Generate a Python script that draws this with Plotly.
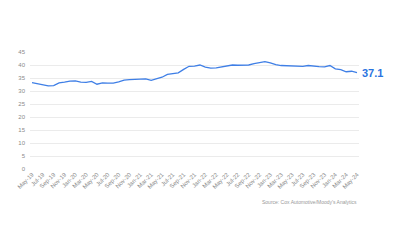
import plotly.graph_objects as go

months = ["May-19","Jun-19","Jul-19","Aug-19","Sep-19","Oct-19","Nov-19","Dec-19",
          "Jan-20","Feb-20","Mar-20","Apr-20","May-20","Jun-20","Jul-20","Aug-20","Sep-20","Oct-20","Nov-20","Dec-20",
          "Jan-21","Feb-21","Mar-21","Apr-21","May-21","Jun-21","Jul-21","Aug-21","Sep-21","Oct-21","Nov-21","Dec-21",
          "Jan-22","Feb-22","Mar-22","Apr-22","May-22","Jun-22","Jul-22","Aug-22","Sep-22","Oct-22","Nov-22","Dec-22",
          "Jan-23","Feb-23","Mar-23","Apr-23","May-23","Jun-23","Jul-23","Aug-23","Sep-23","Oct-23","Nov-23","Dec-23",
          "Jan-24","Feb-24","Mar-24","Apr-24","May-24"]
values = [33.2,32.8,32.6,32.0,32.1,33.1,33.4,33.8,
          33.9,33.4,33.3,33.7,32.6,33.1,33.0,33.0,33.5,34.2,34.4,34.5,
          34.6,34.7,34.1,34.7,35.3,36.4,36.7,37.0,38.3,39.5,39.6,40.0,
          39.2,38.8,38.9,39.2,39.6,40.0,39.9,39.9,40.0,40.5,41.0,41.3,
          40.8,40.1,39.8,39.7,39.6,39.7,39.5,39.8,39.5,39.4,39.3,39.8,
          38.5,38.2,37.4,37.6,37.1]
y_ticks = [0, 5, 10, 15, 20, 25, 30, 35, 40, 45]
source = "Source: Cox Automotive/Moody's Analytics"

idx = list(range(len(months)))
tick_idx = idx[::2]
tick_text = months[::2]

blue = "#2a74e0"
fig = go.Figure()
fig.add_trace(go.Scatter(x=idx, y=values, mode="lines",
                         line=dict(color="#3f7fe6", width=1.3),
                         hoverinfo="skip", showlegend=False))
fig.add_annotation(x=idx[-1], y=values[-1], text="<b>%.1f</b>" % values[-1],
                   showarrow=False, xanchor="left", xshift=3, yanchor="middle",
                   font=dict(family="Arial, Liberation Sans", size=11, color=blue))
fig.add_annotation(x=1, y=0, xref="paper", yref="paper", text=source,
                   showarrow=False, xanchor="right", yanchor="top", yshift=-28,
                   font=dict(family="Arial, Liberation Sans", size=5, color="#999999"))

fig.update_layout(
    width=400, height=250,
    margin=dict(l=30, r=41, t=52, b=81),
    paper_bgcolor="white", plot_bgcolor="white",
    font=dict(family="Arial, Liberation Sans", size=6, color="#8a8a8a"),
    xaxis=dict(range=[-0.37, 60.37], tickmode="array", tickvals=tick_idx,
               ticktext=tick_text, tickangle=-45, showgrid=False, zeroline=False,
               showline=False, ticks="", tickfont=dict(size=6, color="#8a8a8a")),
    yaxis=dict(range=[0, 45], tickmode="array", tickvals=y_ticks,
               showgrid=True, gridcolor="#ebebeb", gridwidth=1, zeroline=False,
               showline=False, ticks="", ticklabelstandoff=4,
               tickfont=dict(size=6, color="#8a8a8a")),
)
fig.write_html("out.html")
